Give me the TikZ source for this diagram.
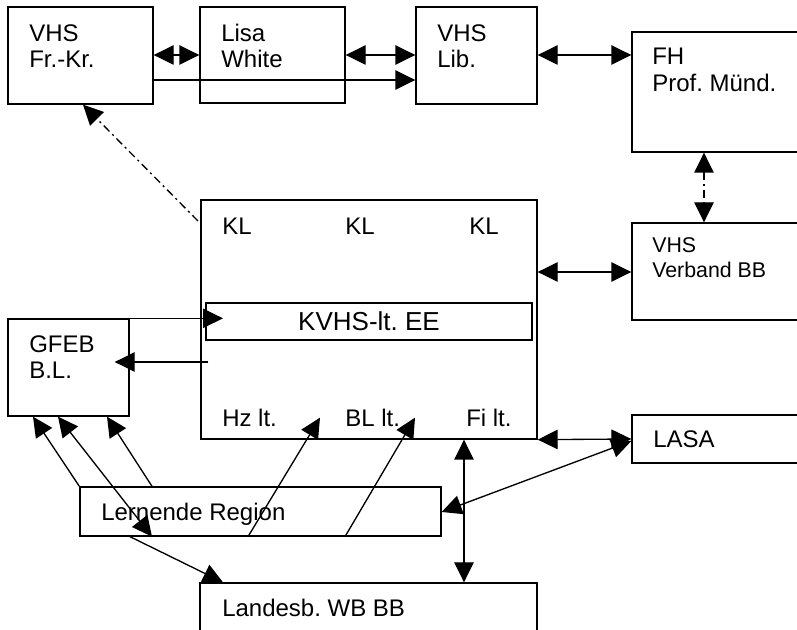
\documentclass[tikz,border=0pt]{standalone}
\usepackage{fontspec}
\setmainfont{Liberation Sans}
\usetikzlibrary{arrows.meta,fit,calc}
\frenchspacing
\begin{document}
\begin{tikzpicture}[x=0.75pt,y=-0.75pt,
  box/.style={draw,line width=1pt,inner sep=0pt},
  lbl/.style={anchor=base west,inner sep=0pt,font=\fontsize{18}{20}\selectfont\frenchspacing},
  lblsm/.style={lbl,font=\fontsize{16}{18}\selectfont\frenchspacing},
  lblbig/.style={anchor=base,inner sep=0pt,font=\fontsize{19.5}{22}\selectfont\frenchspacing},
  conn/.style={line width=1pt},
  arr/.style={-{Triangle[length=15pt,width=14.5pt]}},
  darr/.style={{Triangle[length=15pt,width=14.5pt]}-{Triangle[length=15pt,width=14.5pt]}},
  dd/.style={dash pattern=on 6pt off 3pt on 1.5pt off 3pt}]
\useasboundingbox (0,0) rectangle (797,630);
\clip (0,0) rectangle (797,630);
% boxes
\node[box,fit={(8,7) (153,104)}] (vhsfk) {};
\node[box,fit={(200,7) (345,103)}] (lisa) {};
\node[box,fit={(416,7) (537,104)}] (lib) {};
\node[box,fit={(632,32) (840,152)}] (fh) {};
\node[box,fit={(632,223) (840,320)}] (verb) {};
\node[box,fit={(201,200) (537,439)}] (big) {};
\node[box,fit={(206,303) (532,340)}] (kvhs) {};
\node[box,fit={(8,319) (129,416)}] (gfeb) {};
\node[box,fit={(80,487) (441,536)}] (lern) {};
\node[box,fit={(200,583) (537,680)}] (land) {};
\node[box,fit={(632,415) (840,463)}] (lasa) {};
% labels
\node[lbl] (t1a) at (29,42) {VHS};
\node[lbl] (t1b) at (29,68) {Fr.-Kr.};
\node[lbl] (t2a) at (221,42) {Lisa};
\node[lbl] (t2b) at (221,68) {White};
\node[lbl] (t3a) at (437,42) {VHS};
\node[lbl] (t3b) at (437,68) {Lib.};
\node[lbl] (t4a) at (652,65) {FH};
\node[lbl] (t4b) at (652,92) {Prof. Münd.};
\node[lblsm] (t5a) at (652,253) {VHS};
\node[lblsm] (t5b) at (652,278) {Verband BB};
\node[lbl] (kl1) at (222,235) {KL};
\node[lbl] (kl2) at (345,235) {KL};
\node[lbl] (kl3) at (469,235) {KL};
\node[lblbig] (tk) at (369,331) {KVHS-lt. EE};
\node[lbl] (t6a) at (29,353) {GFEB};
\node[lbl] (t6b) at (29,379) {B.L.};
\node[lbl] (hz) at (222,427) {Hz lt.};
\node[lbl] (bl) at (345,427) {BL lt.};
\node[lbl] (fi) at (466,427) {Fi lt.};
\node[lbl] (t7) at (101,521) {Lernende Region};
\node[lbl] (t8) at (222,617) {Landesb. WB BB};
\node[lbl] (t9) at (653,448) {LASA};
% free ends
\coordinate (ddstart) at (198,221);
\coordinate (gfin) at ($(gfeb.east |- 0,362)+(-15,0)$);
\coordinate (bigin) at ($(big.west |- 0,362)+(8,0)$);
\coordinate (hztip) at ($(big.south -| 320,0)+(0,-22)$);
\coordinate (bltip) at ($(big.south -| 415,0)+(0,-22)$);
% connectors
\draw[conn,darr] (vhsfk.east |- 0,55) -- (lisa.west |- 0,55);
\draw[conn,darr] (lisa.east |- 0,55) -- (lib.west |- 0,55);
\draw[conn,arr] (vhsfk.east |- 0,80) -- (lib.west |- 0,80);
\draw[conn,darr] (lib.east |- 0,55) -- (fh.west |- 0,55);
\draw[conn,dd,darr] (fh.south -| 704,0) -- (verb.north -| 704,0);
\draw[conn,darr] (big.east |- 0,272) -- (verb.west |- 0,272);
\draw[conn,dd,arr] (ddstart) -- (vhsfk.south -| 83,0);
\draw[conn,arr] (gfeb.north east) -- (gfeb.north -| 223,0);
\draw[conn,arr] (bigin) -- (gfin);
\draw[conn,arr] (lern.north west) -- (gfeb.south -| 33,0);
\draw[conn,darr] (gfeb.south -| 58,0) -- (lern.south -| 152,0);
\draw[conn,arr] (lern.north -| 152,0) -- (gfeb.south -| 107,0);
\draw[conn,arr] (lern.south -| 248,0) -- (hztip);
\draw[conn,arr] (lern.south -| 345,0) -- (bltip);
\draw[conn,arr] (lern.south -| 130,0) -- (land.north -| 223,0);
\draw[conn,darr] (big.south -| 464,0) -- (land.north -| 464,0);
\draw[conn,darr] (big.south east) -- (lasa.west |- 0,439);
\draw[conn,darr] (lasa.west |- 0,441) -- (lern.east |- 0,512);
\end{tikzpicture}
\end{document}
